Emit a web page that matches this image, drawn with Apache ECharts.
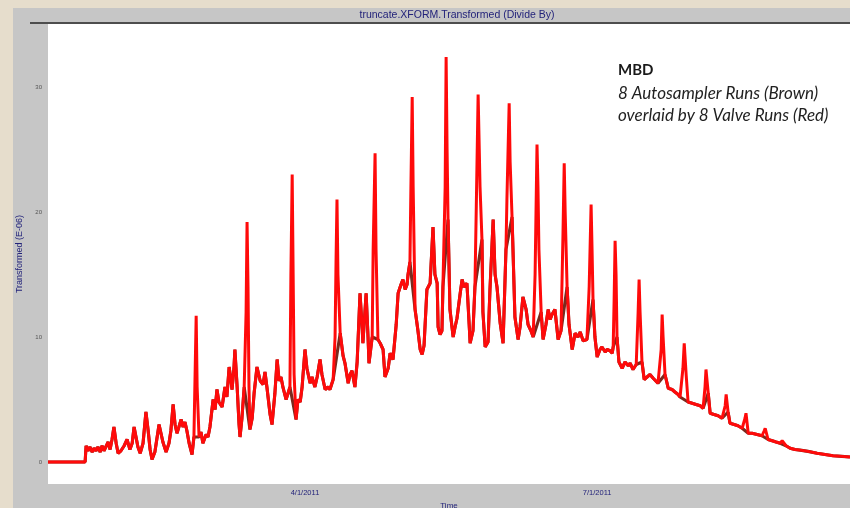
<!DOCTYPE html>
<html><head><meta charset="utf-8">
<script src="https://cdn.jsdelivr.net/npm/echarts@6/dist/echarts.min.js"></script>
<style>html,body{margin:0;padding:0;background:#e6ddcc}#c{width:850px;height:508px}</style>
</head><body><div id="c"></div>
<script>
// Time axis in days from start of record
const valveDays = [0,11.6,11.9,12.5,13.1,13.8,14.4,15.0,15.6,16.3,16.9,17.5,18.1,18.8,19.4,20.0,20.6,21.3,21.9,22.8,23.8,24.7,25.6,26.3,26.9,27.5,28.1,28.8,29.7,30.6,31.3,31.9,32.5,33.4,34.7,35.3,35.9,36.9,37.8,38.4,39.1,39.7,40.3,40.9,41.6,42.2,42.8,43.4,44.1,45.0,45.6,46.3,46.6,47.2,47.8,48.4,49.4,50.0,50.6,51.6,52.2,52.8,53.4,54.4,55.3,55.9,56.6,57.2,57.5,58.1,58.4,59.1,59.7,60.0,60.6,61.3,61.9,62.2,62.5,62.8,63.1,63.8,64.4,65.3,66.3,67.2,67.8,68.4,69.4,70.0,70.9,71.6,72.2,72.8,73.4,74.4,75.0,75.6,75.9,76.3,76.6,76.9,77.5,78.1,78.8,79.4,80.3,80.9,81.9,82.5,83.4,84.1,85.0,85.6,86.6,87.5,88.1,89.1,89.7,90.0,90.3,90.6,91.3,92.2,92.8,93.8,94.4,95.0,95.9,96.6,97.5,98.1,98.4,99.4,100.0,100.3,101.3,101.6,102.2,102.5,103.1,103.8,104.7,105.3,106.3,106.9,107.8,108.8,109.4,110.3,110.9,111.6,112.2,112.5,113.1,113.4,113.8,114.1,114.7,115.6,116.3,116.9,117.5,118.4,119.4,120.3,120.9,121.6,121.9,122.5,123.1,123.4,124.1,124.4,124.7,125.0,125.6,126.6,127.2,127.8,128.8,129.4,130.0,130.9,131.6,131.9,132.8,133.4,133.8,134.4,135.0,135.6,135.9,136.6,137.5,138.1,139.1,139.7,140.3,141.3,142.2,143.1,143.4,144.1,144.4,145.0,145.9,146.9,147.5,148.4,149.4,150.0,150.9,151.6,152.2,152.8,153.1,153.4,154.1,154.7,155.6,156.3,156.9,157.5,158.4,159.4,160.3,160.9,161.3,161.6,162.2,162.8,163.8,164.7,165.6,166.3,167.2,168.4,169.1,169.7,170.0,170.3,170.9,171.6,172.5,173.1,174.1,174.7,175.6,176.3,176.6,176.9,177.2,177.5,177.8,178.4,179.4,180.3,181.3,181.9,182.8,183.8,184.4,184.7,185.0,185.6,186.3,187.2,188.1,189.1,189.7,190.6,191.6,191.9,192.2,192.8,193.8,195.0,195.9,196.9,197.5,198.4,198.8,199.4,200.0,201.3,202.5,203.8,204.7,205.3,205.6,206.3,206.9,208.1,209.4,210.6,211.6,211.9,212.5,213.1,214.4,215.6,216.9,217.8,218.1,218.8,220.0,221.6,223.1,223.8,224.1,225.0,226.3,227.5,228.8,229.4,229.7,230.6,231.9,233.4,235.0,237.5,240.3,242.8,245.3,248.1,250.6];
const valveVals = [0,0,1.3,0.9,1.2,0.8,1.1,0.9,1.2,0.8,1.3,0.9,1.0,1.6,1.0,1.8,2.8,1.5,0.7,0.9,1.3,1.8,1.0,1.5,2.8,2.0,1.2,0.7,1.5,4.0,2.5,1.0,0.2,0.8,3.0,2.3,1.6,0.8,1.5,2.5,4.6,3.0,2.3,2.8,3.4,2.8,3.2,2.5,1.5,0.6,2.0,11.7,6.0,2.0,2.4,1.5,2.2,2.0,2.8,5.0,4.2,5.8,4.8,4.4,6.0,5.2,7.6,6.5,5.8,7.5,9.0,6.0,3.0,2.0,3.5,6.0,12,19.2,14,6,2.6,3.5,5.5,7.6,6.5,6.2,7.2,6.0,3.8,3.0,5.5,8.2,6.5,6.8,6.0,5.0,5.5,6.0,15,23.0,15,7,3.4,5.0,4.8,6.0,9.0,7.5,6.3,6.8,6.0,6.8,8.2,7.0,5.8,6.0,5.8,6.6,10,16,21.0,15,10.3,8.5,7.9,6.3,7.0,7.3,6.0,8.0,13.5,11.0,9.5,13.5,10,7.9,10,17,24.7,17,9.8,9.5,9.0,6.8,7.5,8.7,8.2,11,13.5,14.2,14.6,13.8,14.2,15.0,16,22,29.2,22,12.2,10.5,9.0,8.6,9.3,13.8,14.3,18.8,15,14.3,10.8,10.2,10.5,14,22,32.4,25,19.4,12.2,10.0,10.8,11.5,13.5,14.6,14.0,14.3,11,9.5,10.5,14,20,29.4,22,17.8,12,9.2,9.6,13.8,19.4,15,14,11.1,9.5,17.0,21,28.7,24,19.6,11.6,9.8,10.8,13.2,12.2,11.0,10.5,10.0,15,25.4,22,17,12,9.8,11.0,12.2,11.4,11.8,12.2,9.8,10.5,18,23.9,20,14,11,9.0,10.3,10.0,10.4,9.7,9.8,14,20.6,17,13,10,8.4,9.0,9.2,8.8,9.0,8.9,8.7,9.2,13,17.7,15,10,8.0,7.5,8.0,7.7,7.9,7.4,7.8,12,14.6,12,8.0,6.6,6.8,7.0,6.7,6.6,6.3,9,11.8,10,7.0,5.9,5.8,5.6,5.4,5.2,7.5,9.5,7,4.8,4.7,4.6,4.5,4.3,6,7.4,5.5,3.9,3.8,3.7,3.5,4.5,5.4,4.0,3.1,3.0,2.9,2.7,3.5,3.9,2.3,2.3,2.2,2.1,2.5,2.7,1.8,1.7,1.6,1.5,1.7,1.8,1.3,1.1,1.0,0.95,0.85,0.7,0.6,0.5,0.45,0.4];
// Points that belong only to the valve (red) runs' sharp spikes
const valveOnlyDays = [46.3,46.6,61.9,62.2,62.5,62.8,75.9,76.3,76.6,76.9,89.7,90.0,90.3,90.6,101.6,102.2,102.5,113.4,113.8,114.1,124.1,124.4,124.7,133.8,134.4,135.0,143.4,144.1,144.4,152.2,152.8,153.1,153.4,160.9,161.3,161.6,169.1,169.7,170.0,176.9,177.2,177.5,184.4,184.7,185.0,191.6,191.9,192.2,198.4,198.8,199.4,205.3,205.6,211.6,211.9,217.8,218.1,223.8,224.1,229.4,229.7];
const xTickDays = [80.3, 171.6];
const xTickLabels = ['4/1/2011', '7/1/2011'];
const yTicks = [0, 10, 20, 30];
const yTickLabels = ['0', '10', '20', '30'];

const valveData = valveDays.map((d, i) => [d, valveVals[i]]);
const autoData = valveDays.map((d, i) => [d, valveVals[i]]).filter(p => valveOnlyDays.indexOf(p[0]) < 0);

const chart = echarts.init(document.getElementById('c'), null, {renderer: 'canvas'});
chart.setOption({
  backgroundColor: '#e6ddcc',
  animation: false,
  title: {
    text: 'truncate.XFORM.Transformed (Divide By)',
    left: 452, top: 5, textAlign: 'center',
    textStyle: {fontFamily: 'Liberation Sans', fontSize: 10.5, fontWeight: 'normal', color: '#23237a'}
  },
  graphic: [
    {type: 'rect', z: -10, shape: {x: 13, y: 8, width: 837, height: 500}, style: {fill: '#c6c6c6'}},
    {type: 'rect', z: -9, shape: {x: 30, y: 22, width: 820, height: 2}, style: {fill: '#4d4d4d'}},
    {type: 'group', left: 618, top: 63, children: [
      {type: 'text', style: {text: 'MBD', x: 0, y: 0, font: 'bold 15px Lato', fill: '#1a1a1a'}},
      {type: 'text', style: {text: '8 Autosampler Runs (Brown)', x: 0, y: 22, font: 'italic 17px Lato', fill: '#222'}},
      {type: 'text', style: {text: 'overlaid by 8 Valve Runs (Red)', x: 0, y: 44, font: 'italic 17px Lato', fill: '#222'}}
    ]}
  ],
  grid: {left: 48, right: 0, top: 24, bottom: 24, containLabel: false, outerBoundsMode: 'none',
    show: true, backgroundColor: '#ffffff', borderWidth: 0},
  xAxis: {
    type: 'value', min: 0, max: 250.6,
    name: 'Time', nameLocation: 'middle', nameGap: 16,
    nameTextStyle: {fontFamily: 'Liberation Sans', fontSize: 8, color: '#23237a'},
    axisLine: {show: false}, axisTick: {show: false}, splitLine: {show: false},
    axisLabel: {customValues: xTickDays, margin: 5, fontFamily: 'Liberation Sans', fontSize: 7.5, color: '#23237a',
      formatter: v => xTickLabels[xTickDays.indexOf(v)] || ''}
  },
  yAxis: {
    type: 'value', min: -1.76, max: 35.04,
    name: 'Transformed (E-06)', nameLocation: 'middle', nameGap: 22,
    nameTextStyle: {fontFamily: 'Liberation Sans', fontSize: 9, color: '#23237a'},
    axisLine: {show: false}, axisTick: {show: false}, splitLine: {show: false},
    axisLabel: {customValues: yTicks, margin: 6, fontFamily: 'Liberation Sans', fontSize: 6, color: '#555',
      formatter: v => yTickLabels[yTicks.indexOf(v)] || ''}
  },
  series: [
    {name: 'Autosampler', type: 'line', data: autoData, symbol: 'none', z: 2,
      lineStyle: {color: '#7a2a1e', width: 3.1}},
    {name: 'Valve', type: 'line', data: valveData, symbol: 'none', z: 3,
      lineStyle: {color: '#ff0a0a', width: 3}}
  ]
});
</script></body></html>
